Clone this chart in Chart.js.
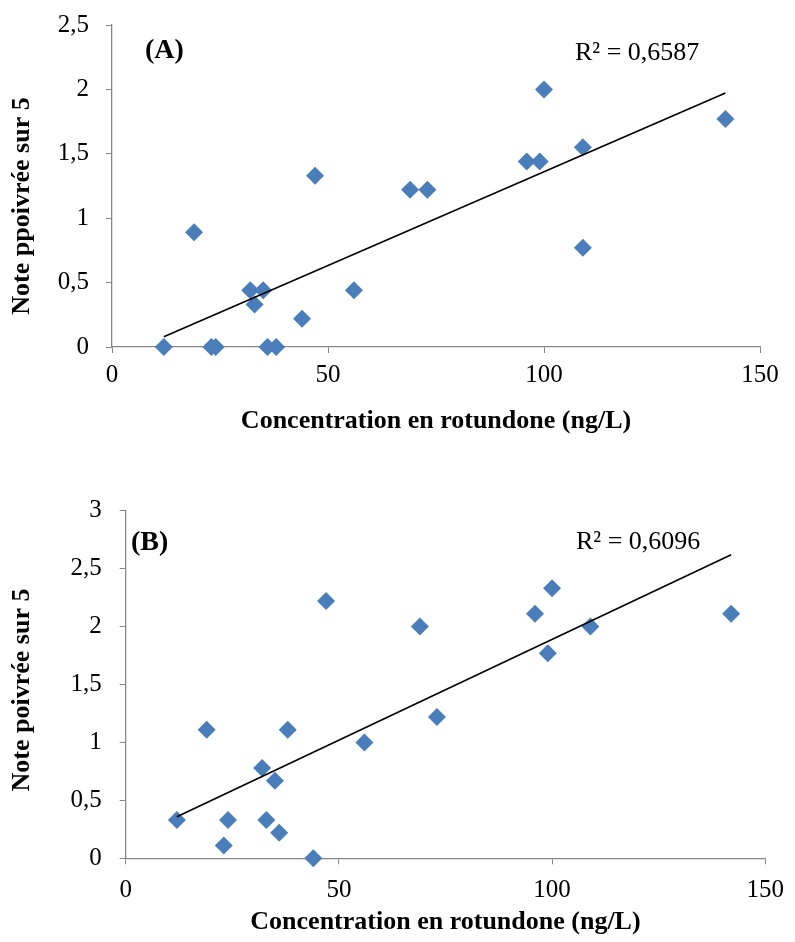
<!DOCTYPE html>
<html>
<head>
<meta charset="utf-8">
<script src="https://cdn.jsdelivr.net/npm/chart.js@4/dist/chart.umd.min.js"></script>
<style>
    html, body { margin: 0; padding: 0; background: #fff; }
    body { width: 795px; height: 942px; position: relative; overflow: hidden; }
    canvas { position: absolute; left: 0; }
    #chartA { top: 0; }
    #chartB { top: 440px; }
</style>
</head>
<body>
<canvas id="chartA" width="795" height="440"></canvas>
<canvas id="chartB" width="795" height="502"></canvas>
<script>
// concentration en rotundone (ng/L), same wines in both panels
const rotundoneA = [12, 19, 23, 24, 32, 33, 35, 36, 38, 44, 47, 56, 69, 73, 96, 99, 100, 109, 109, 142];
const noteA = [0, 0.89, 0, 0, 0.44, 0.33, 0.44, 0, 0, 0.22, 1.33, 0.44, 1.22, 1.22, 1.44, 1.44, 2.0, 1.55, 0.77, 1.77];

const rotundoneB = [12, 19, 23, 24, 32, 33, 35, 36, 38, 44, 47, 56, 69, 73, 96, 99, 100, 109, 142];
const noteB = [0.33, 1.11, 0.11, 0.33, 0.78, 0.33, 0.67, 0.22, 1.11, 0, 2.22, 1.0, 2.0, 1.22, 2.11, 1.77, 2.33, 2.0, 2.11];

const xTickLabels = ['0', '50', '100', '150'];
const yTickLabelsA = ['0', '0,5', '1', '1,5', '2', '2,5'];
const yTickLabelsB = ['0', '0,5', '1', '1,5', '2', '2,5', '3'];

const r2A = 'R\u00b2 = 0,6587';
const r2B = 'R\u00b2 = 0,6096';

const SERIF = "'Liberation Serif', 'Times New Roman', serif";
const AXIS_GREY = '#868686';
const MARKER = '#4A7EBB';

// least squares line between min and max x
function trendLine(xs, ys) {
    const n = xs.length;
    const mx = xs.reduce((a, b) => a + b, 0) / n;
    const my = ys.reduce((a, b) => a + b, 0) / n;
    let sxy = 0, sxx = 0;
    for (let i = 0; i < n; i++) {
        sxy += (xs[i] - mx) * (ys[i] - my);
        sxx += (xs[i] - mx) * (xs[i] - mx);
    }
    const slope = sxy / sxx;
    const b = my - slope * mx;
    const x0 = Math.min(...xs), x1 = Math.max(...xs);
    return [{ x: x0, y: slope * x0 + b }, { x: x1, y: slope * x1 + b }];
}

// panel letter, R² text and the rotated y title
const labelsPlugin = {
    id: 'panelLabels',
    afterDraw(chart, args, opts) {
        const ctx = chart.ctx;
        ctx.save();
        ctx.fillStyle = '#000';
        ctx.textBaseline = 'alphabetic';
        ctx.textAlign = 'left';
        opts.items.forEach(it => {
            ctx.font = it.font;
            ctx.fillText(it.text, it.x, it.y);
        });
        const t = opts.yTitle;
        ctx.translate(t.x, t.y);
        ctx.rotate(-Math.PI / 2);
        ctx.font = 'bold 26px ' + SERIF;
        ctx.textAlign = 'center';
        ctx.textBaseline = 'middle';
        ctx.fillText(t.text, 0, 0);
        ctx.restore();
    }
};

function makeChart(id, cfg) {
    const ctx = document.getElementById(id).getContext('2d');
    return new Chart(ctx, {
        type: 'scatter',
        data: {
            datasets: [{
                type: 'line',
                data: trendLine(cfg.xs, cfg.ys),
                borderColor: '#000',
                borderWidth: 1.6,
                pointRadius: 0,
                fill: false,
                order: 0
            }, {
                data: cfg.xs.map((x, i) => ({ x: x, y: cfg.ys[i] })),
                pointStyle: 'rectRot',
                pointRadius: 9,
                pointBackgroundColor: MARKER,
                pointBorderWidth: 0,
                borderWidth: 0,
                clip: false,
                order: 1
            }]
        },
        options: {
            responsive: false,
            animation: false,
            devicePixelRatio: 1,
            layout: { padding: cfg.padding },
            plugins: {
                legend: { display: false },
                tooltip: { enabled: false },
                panelLabels: { items: cfg.texts, yTitle: cfg.yTitle }
            },
            scales: {
                x: {
                    type: 'linear',
                    min: 0,
                    max: 150,
                    afterFit: s => { s.height = cfg.xHeight; },
                    afterBuildTicks: s => { s.ticks = [0, 50, 100, 150].map(v => ({ value: v })); },
                    ticks: {
                        padding: cfg.xTickPad,
                        color: '#000',
                        font: { family: SERIF, size: 25 },
                        callback: (v, i) => xTickLabels[i]
                    },
                    grid: { drawOnChartArea: false, drawTicks: true, tickLength: 6, color: AXIS_GREY },
                    border: { color: AXIS_GREY, width: 1.3 },
                    title: {
                        display: true,
                        text: 'Concentration en rotundone (ng/L)',
                        color: '#000',
                        font: { family: SERIF, size: 26, weight: 'bold' },
                        padding: { top: 0, bottom: cfg.xTitlePad }
                    }
                },
                y: {
                    type: 'linear',
                    min: 0,
                    max: cfg.yMax,
                    afterFit: s => {
                        s.width = cfg.yWidth;
                        s.paddingTop = 0;
                        s.paddingBottom = 0;
                    },
                    ticks: {
                        stepSize: 0.5,
                        padding: cfg.yTickPad,
                        color: '#000',
                        font: { family: SERIF, size: 25 },
                        callback: (v, i) => cfg.yLabels[i]
                    },
                    grid: { drawOnChartArea: false, drawTicks: true, tickLength: 6, color: AXIS_GREY },
                    border: { color: AXIS_GREY, width: 1.3 },
                    title: { display: false }
                }
            }
        },
        plugins: [labelsPlugin]
    });
}

makeChart('chartA', {
    xs: rotundoneA, ys: noteA, yMax: 2.5, yLabels: yTickLabelsA,
    yTitle: { text: 'Note ppoivrée sur 5', x: 22.5, y: 206 },
    padding: { left: 0, right: 35, top: 25, bottom: 0 },
    yWidth: 112, xHeight: 93, xTickPad: 7, yTickPad: 17, xTitlePad: 3,
    texts: [
        { text: '(A)', x: 145, y: 58, font: 'bold 28px ' + SERIF },
        { text: r2A, x: 575, y: 60, font: '26px ' + SERIF }
    ]
});

makeChart('chartB', {
    xs: rotundoneB, ys: noteB, yMax: 3, yLabels: yTickLabelsB,
    yTitle: { text: 'Note poivrée sur 5', x: 22, y: 250 },
    padding: { left: 0, right: 21.7, top: 70.7, bottom: 0 },
    yWidth: 125.7, xHeight: 83.7, xTickPad: 11, yTickPad: 18, xTitlePad: 4,
    texts: [
        { text: '(B)', x: 131, y: 110, font: 'bold 28px ' + SERIF },
        { text: r2B, x: 576, y: 109, font: '26px ' + SERIF }
    ]
});
</script>
</body>
</html>
